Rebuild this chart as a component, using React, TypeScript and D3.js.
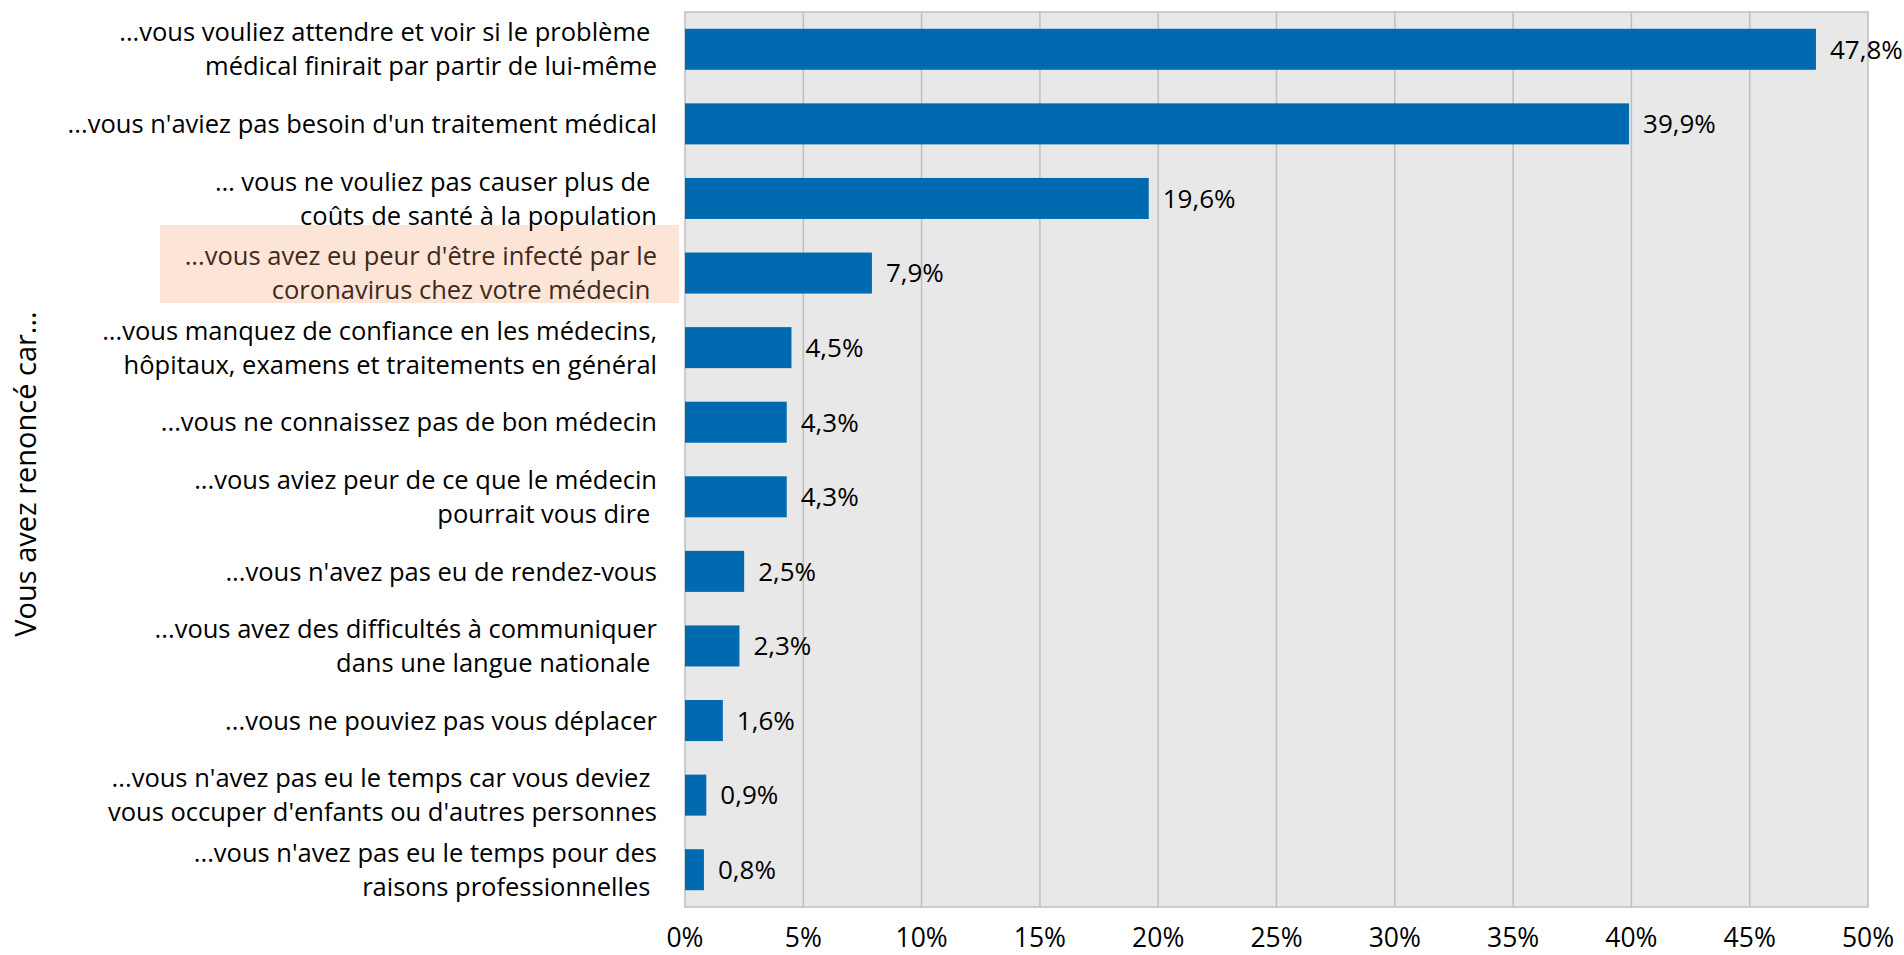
import { useEffect, useRef } from "react";
import * as d3 from "d3";

// categories (each entry = lines of the wrapped label)
const categories: string[][] = [
  ["...vous vouliez attendre et voir si le problème\u00a0", "médical finirait par partir de lui-même"],
  ["...vous n'aviez pas besoin d'un traitement médical"],
  ["… vous ne vouliez pas causer plus de\u00a0", "coûts de santé à la population"],
  ["...vous avez eu peur d'être infecté par le", "coronavirus chez votre médecin\u00a0"],
  ["...vous manquez de confiance en les médecins,", "hôpitaux, examens et traitements en général"],
  ["...vous ne connaissez pas de bon médecin"],
  ["...vous aviez peur de ce que le médecin", "pourrait vous dire\u00a0"],
  ["...vous n'avez pas eu de rendez-vous"],
  ["...vous avez des difficultés à communiquer", "dans une langue nationale\u00a0"],
  ["...vous ne pouviez pas vous déplacer"],
  ["...vous n'avez pas eu le temps car vous deviez\u00a0", "vous occuper d'enfants ou d'autres personnes"],
  ["...vous n'avez pas eu le temps pour des", "raisons professionnelles\u00a0"],
];
const values = [47.8, 39.9, 19.6, 7.9, 4.5, 4.3, 4.3, 2.5, 2.3, 1.6, 0.9, 0.8];
const ticks = [0, 5, 10, 15, 20, 25, 30, 35, 40, 45, 50];
const highlighted = 3;
const axisTitle = "Vous avez renoncé car...";

export default function App() {
  const svgRef = useRef<SVGSVGElement>(null);
  const width = 1904;
  const height = 955;

  useEffect(() => {
    const margin = { top: 12, right: 36, bottom: 48, left: 685 };
    const font = "'Open Sans', sans-serif";

    const svg = d3.select(svgRef.current);
    svg.selectAll("*").remove(); // Clear previous render

    const xScale = d3
      .scaleLinear()
      .domain([0, 50])
      .range([margin.left, width - margin.right]);

    const yScale = d3
      .scaleBand<number>()
      .domain(values.map((_, i) => i))
      .range([margin.top, height - margin.bottom])
      .paddingInner(0.45)
      .paddingOuter(0.225);

    // Plot background
    svg
      .append("rect")
      .attr("x", xScale(0))
      .attr("y", margin.top)
      .attr("width", xScale(50) - xScale(0))
      .attr("height", height - margin.bottom - margin.top)
      .attr("fill", "#e8e8e8")
      .attr("stroke", "#bfbfbf")
      .attr("stroke-width", 1.5);

    // Gridlines
    svg
      .selectAll(".grid")
      .data(ticks.slice(1, -1))
      .enter()
      .append("line")
      .attr("x1", (d) => xScale(d))
      .attr("x2", (d) => xScale(d))
      .attr("y1", margin.top)
      .attr("y2", height - margin.bottom)
      .attr("stroke", "#bfbfbf")
      .attr("stroke-width", 1.5);

    // Highlight box behind one label
    const hc = (yScale(highlighted) ?? 0) + yScale.bandwidth() / 2;
    svg
      .append("rect")
      .attr("x", 160)
      .attr("y", hc - 48)
      .attr("width", 519)
      .attr("height", 78)
      .attr("fill", "#fce4d6");

    // Bars
    svg
      .selectAll(".bar")
      .data(values)
      .enter()
      .append("rect")
      .attr("x", xScale(0))
      .attr("y", (_, i) => yScale(i) ?? 0)
      .attr("width", (d) => xScale(d) - xScale(0))
      .attr("height", yScale.bandwidth())
      .attr("fill", "#006ab1");

    // Value labels
    svg
      .selectAll(".label")
      .data(values)
      .enter()
      .append("text")
      .attr("x", (d) => xScale(d) + 14)
      .attr("y", (_, i) => (yScale(i) ?? 0) + yScale.bandwidth() / 2)
      .attr("dy", "0.36em")
      .attr("font-family", font)
      .attr("font-size", 26)
      .attr("fill", "#000")
      .text((d) => `${d.toFixed(1).replace(".", ",")}%`);

    // Category labels
    const lineGap = 34;
    categories.forEach((lines, i) => {
      const cy = (yScale(i) ?? 0) + yScale.bandwidth() / 2;
      const y0 = cy - ((lines.length - 1) * lineGap) / 2;
      const t = svg
        .append("text")
        .attr("font-family", font)
        .attr("font-size", 25.5)
        .attr("text-anchor", "end")
        .attr("fill", i === highlighted ? "#3e2a1d" : "#000");
      lines.forEach((line, j) => {
        t.append("tspan")
          .attr("x", 657)
          .attr("y", y0 + j * lineGap)
          .attr("dy", "0.36em")
          .text(line);
      });
    });

    // X axis tick labels
    svg
      .selectAll(".tick")
      .data(ticks)
      .enter()
      .append("text")
      .attr("x", (d) => xScale(d))
      .attr("y", 947)
      .attr("text-anchor", "middle")
      .attr("font-family", font)
      .attr("font-size", 26.5)
      .attr("fill", "#000")
      .text((d) => `${d}%`);

    // Axis title
    svg
      .append("text")
      .attr("transform", `translate(36,${474}) rotate(-90)`)
      .attr("text-anchor", "middle")
      .attr("font-family", font)
      .attr("font-size", 29)
      .attr("fill", "#000")
      .text(axisTitle);
  }, []);

  return (
    <svg
      ref={svgRef}
      width={width}
      height={height}
      style={{ position: "absolute", left: 0, top: 0, background: "#fff" }}
    ></svg>
  );
}
